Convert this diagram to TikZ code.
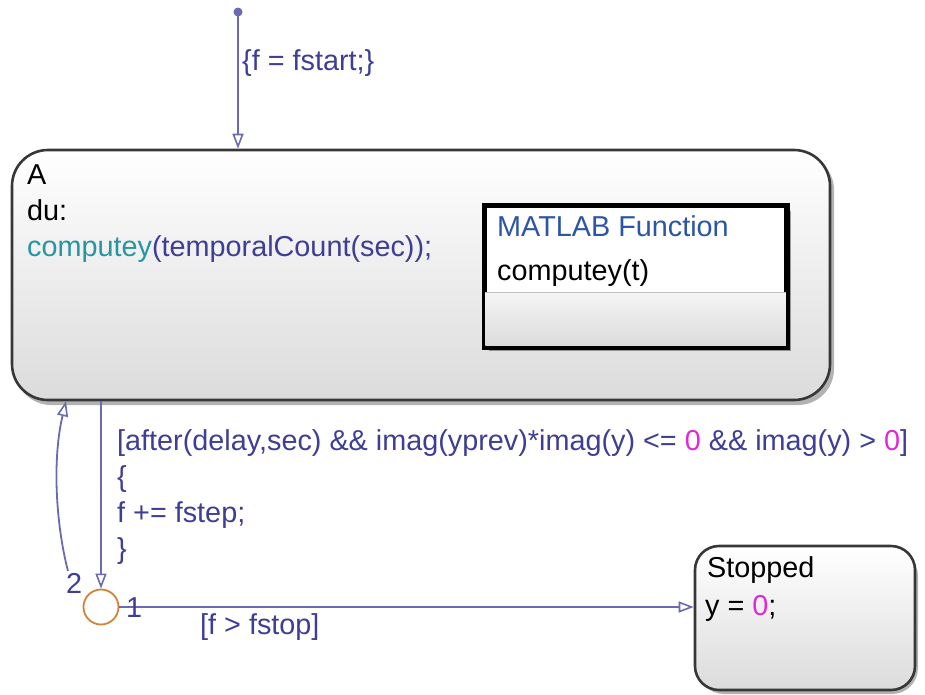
\documentclass[tikz,border=0pt]{standalone}
\usepackage{fontspec}
\setmainfont{Liberation Sans}
\usetikzlibrary{arrows.meta,calc}
\definecolor{tline}{RGB}{105,105,180}
\definecolor{tlab}{RGB}{62,62,150}
\definecolor{mag}{RGB}{225,40,215}
\definecolor{teal2}{RGB}{40,150,160}
\definecolor{mblue}{RGB}{45,85,165}
\definecolor{jor}{RGB}{210,130,55}
\definecolor{sborder}{RGB}{55,55,55}
\tikzset{
  txt/.style={inner sep=0pt, anchor=base west, font=\fontsize{28.8}{36}\selectfont},
  tr/.style={draw=tline, line width=1.8pt, -{Triangle[open,length=15pt,width=11pt,line width=1.6pt]}},
  statebox/.style={draw=sborder, line width=2.6pt, rounded corners=#1, top color=white, bottom color=black!14, inner sep=0pt},
}
\begin{document}
\begin{tikzpicture}[x=1pt,y=-1pt]
\useasboundingbox (0,0) rectangle (925,694);
% shadows
\fill[black,opacity=0.3,rounded corners=36pt] (15,154) rectangle (834,405);
\fill[black,opacity=0.3,rounded corners=26pt] (698,550) rectangle (918,694);
% state A
\node[statebox=36pt, minimum width=818pt, minimum height=250pt] (A) at (421,275) {};
\node[txt] (Aname) at (27,184) {A};
\node[txt] (Adu) at (27,220) {du:};
\node[txt] (Aact) at (27,256) {\textcolor{teal2}{computey}\textcolor{tlab}{(temporalCount(sec));}};
% MATLAB function box
\fill[black,opacity=0.35] (489,211) rectangle (791,351);
\node[draw=black, line width=3.5pt, minimum width=301pt, minimum height=140pt, inner sep=0pt, fill=white] (MF) at (635.5,276) {};
\shade[top color=black!4, bottom color=black!14] ($(MF.south west)+(2,-2)$) rectangle ($(MF.east |- 0,292)+(-2,0)$);
\draw[black!25, line width=1pt] (MF.west |- 0,292) -- (MF.east |- 0,292);
\draw[black, line width=3.5pt] (MF.north west) rectangle (MF.south east);
\node[txt, text=mblue] (MFt) at (497,236) {MATLAB Function};
\node[txt] (MFn) at (497,280) {computey(t)};
% Stopped state
\node[statebox=24pt, minimum width=220pt, minimum height=144pt] (S) at (805,618) {};
\node[txt] (Sname) at (707,577) {Stopped};
\node[txt] (Sact) at (705,615) {y = \textcolor{mag}{0};};
% junction
\node[circle, draw=jor, line width=1.8pt, minimum size=35pt, inner sep=0pt] (J) at (101,607) {};
% default transition
\coordinate (D) at (238,12);
\fill[tline] (D) circle (4.5pt);
\draw[tr] (D) -- (D |- A.north);
\node[txt, text=tlab] (Dl) at (242,70) {\{f = fstart;\}};
% A -> junction
\draw[tr] (J.north |- A.south) -- (J.north);
\node[txt, text=tlab, align=left, anchor=north west] (T1l) at (117,429) {[after(delay,sec) \&\& imag(yprev)*imag(y) <= \textcolor{mag}{0} \&\& imag(y) > \textcolor{mag}{0}]\\\{\\f += fstep;\\\}};
% junction -> A (2)
\coordinate (c2) at (68,571);
\draw[tr] (c2) .. controls (56,525) and (52,460) .. (A.south -| 66,0);
\node[txt, text=tlab] (l2) at (66,593) {2};
% junction -> Stopped (1)
\draw[tr] (J.east) -- (S.west |- J.east);
\node[txt, text=tlab] (l1) at (126,617) {1};
\node[txt, text=tlab] (T2l) at (200,634) {[f > fstop]};
\end{tikzpicture}
\end{document}
